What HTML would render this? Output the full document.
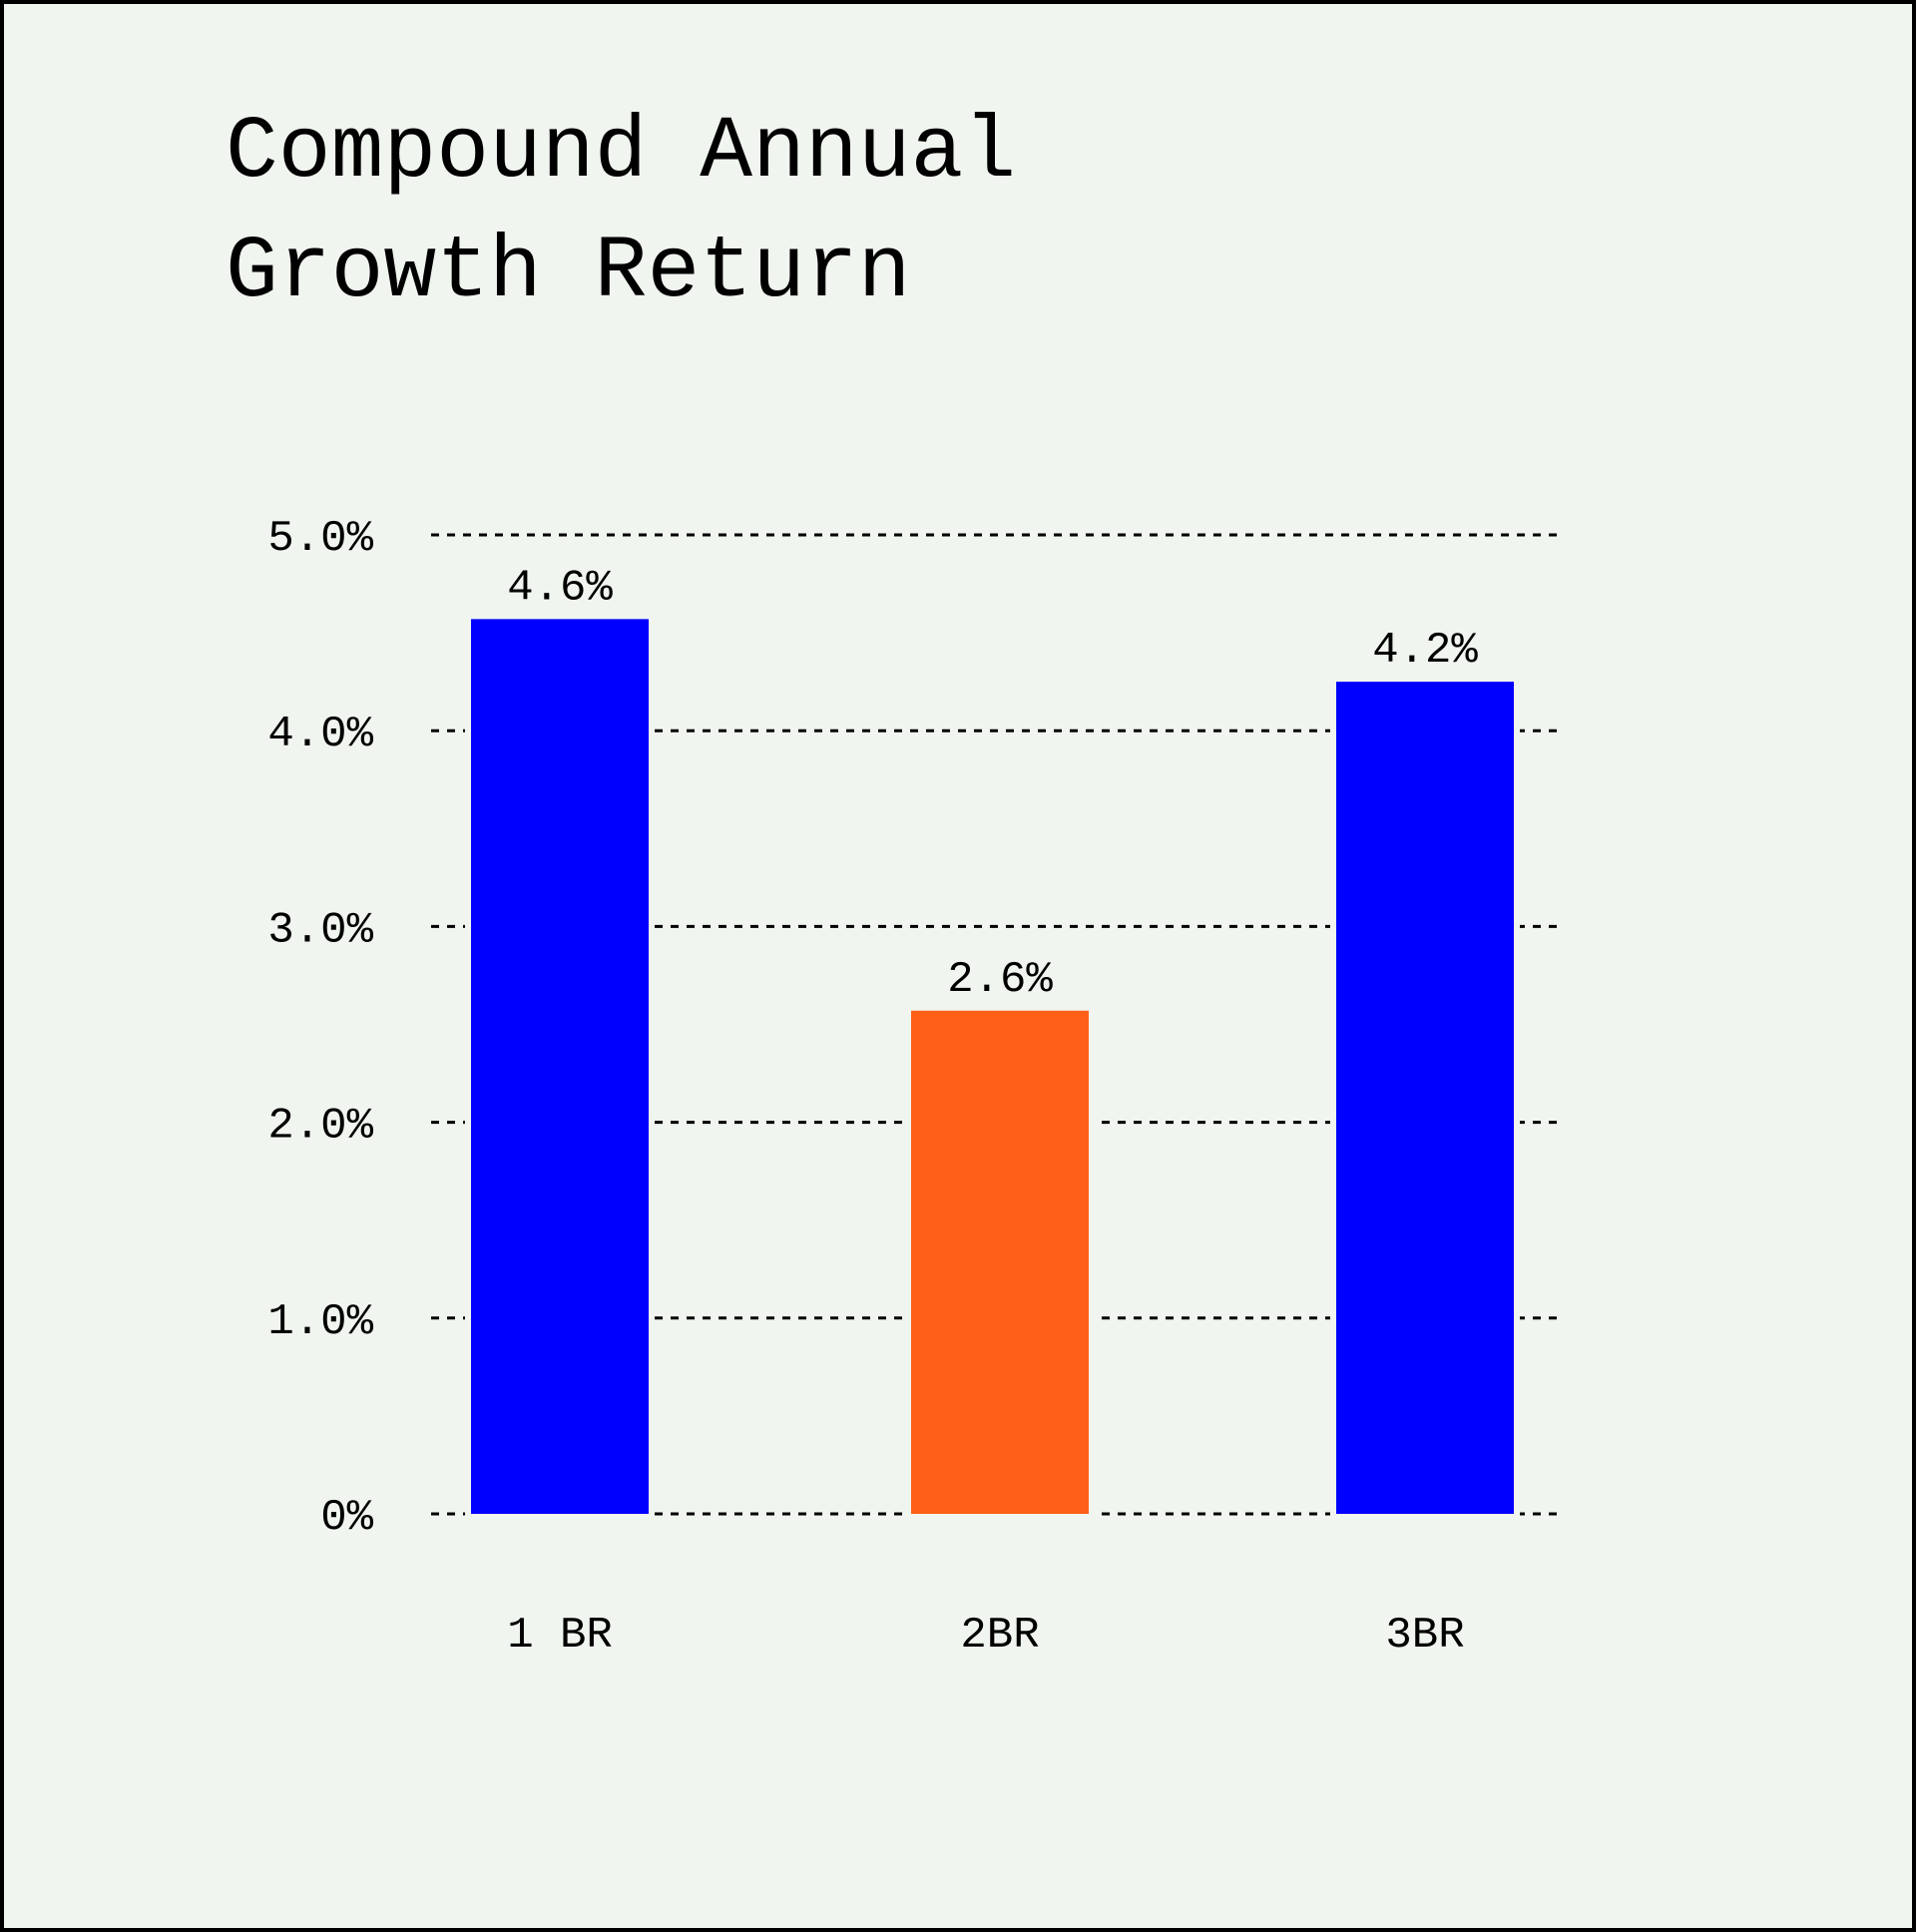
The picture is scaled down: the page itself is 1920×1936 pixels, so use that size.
<!DOCTYPE html>
<html><head><meta charset="utf-8"><style>
html,body{margin:0;padding:0;background:#f1f5ef;}
svg{display:block;}
text{font-family:"Liberation Mono",monospace;fill:#000;}
</style></head><body>
<svg id="chart" width="1920" height="1936" viewBox="0 0 1920 1936" xmlns="http://www.w3.org/2000/svg">
<rect x="2" y="2" width="1916" height="1932" fill="#f1f5ef" stroke="#000" stroke-width="4"/>
<text font-size="88" x="226" y="176">Compound Annual</text>
<text font-size="88" x="226" y="296">Growth Return</text>
<g id="grid"></g>
<g id="bars"></g>
</svg>
<script>
const categories = ["1 BR", "2BR", "3BR"];
const values = [4.57, 2.57, 4.25];
const valueLabels = ["4.6%", "2.6%", "4.2%"];
const colors = ["#0000ff", "#ff5f19", "#0000ff"];
const tickValues = [0, 1, 2, 3, 4, 5];
const tickLabels = ["0%", "1.0%", "2.0%", "3.0%", "4.0%", "5.0%"];

const NS = "http://www.w3.org/2000/svg";
const y0 = 1517, y5 = 536, yMax = 5;
const yScale = v => y0 - (v / yMax) * (y0 - y5);
const xLeft = 432, xRight = 1563;
const centers = [561, 1002, 1428];
const xScale = i => centers[i];
const barW = 178;

const grid = document.getElementById('grid');
tickValues.forEach((t, i) => {
  const y = yScale(t);
  const ln = document.createElementNS(NS, 'line');
  
  
  ln.setAttribute('x1', xLeft); ln.setAttribute('x2', xRight);
  ln.setAttribute('y1', y); ln.setAttribute('y2', y);
  ln.setAttribute('stroke', '#000'); ln.setAttribute('stroke-width', '3');
  ln.setAttribute('stroke-dasharray', '8 8');
  grid.appendChild(ln);
  const tx = document.createElementNS(NS, 'text');
  
  
  tx.setAttribute('x', 374); tx.setAttribute('y', y + 15);
  tx.setAttribute('text-anchor', 'end'); tx.setAttribute('font-size', '44');
  tx.textContent = tickLabels[i];
  grid.appendChild(tx);
});

const bars = document.getElementById('bars');
categories.forEach((c, i) => {
  const cx = xScale(i), top = yScale(values[i]);
  const bg = document.createElementNS(NS, 'rect');
  
  
  bg.setAttribute('x', cx - barW/2 - 6); bg.setAttribute('y', top);
  bg.setAttribute('width', barW + 12); bg.setAttribute('height', y0 - top + 3);
  bg.setAttribute('fill', '#f1f5ef');
  bars.appendChild(bg);
  const r = document.createElementNS(NS, 'rect');
  
  
  r.setAttribute('x', cx - barW/2); r.setAttribute('y', top);
  r.setAttribute('width', barW); r.setAttribute('height', y0 - top);
  r.setAttribute('fill', colors[i]);
  bars.appendChild(r);
  const vl = document.createElementNS(NS, 'text');
  
  
  vl.setAttribute('x', cx); vl.setAttribute('y', top - 20);
  vl.setAttribute('text-anchor', 'middle'); vl.setAttribute('font-size', '44');
  vl.textContent = valueLabels[i];
  bars.appendChild(vl);
  const cl = document.createElementNS(NS, 'text');
  
  
  cl.setAttribute('x', cx); cl.setAttribute('y', 1650);
  cl.setAttribute('text-anchor', 'middle'); cl.setAttribute('font-size', '44');
  cl.textContent = c;
  bars.appendChild(cl);
});
</script>
</body></html>
